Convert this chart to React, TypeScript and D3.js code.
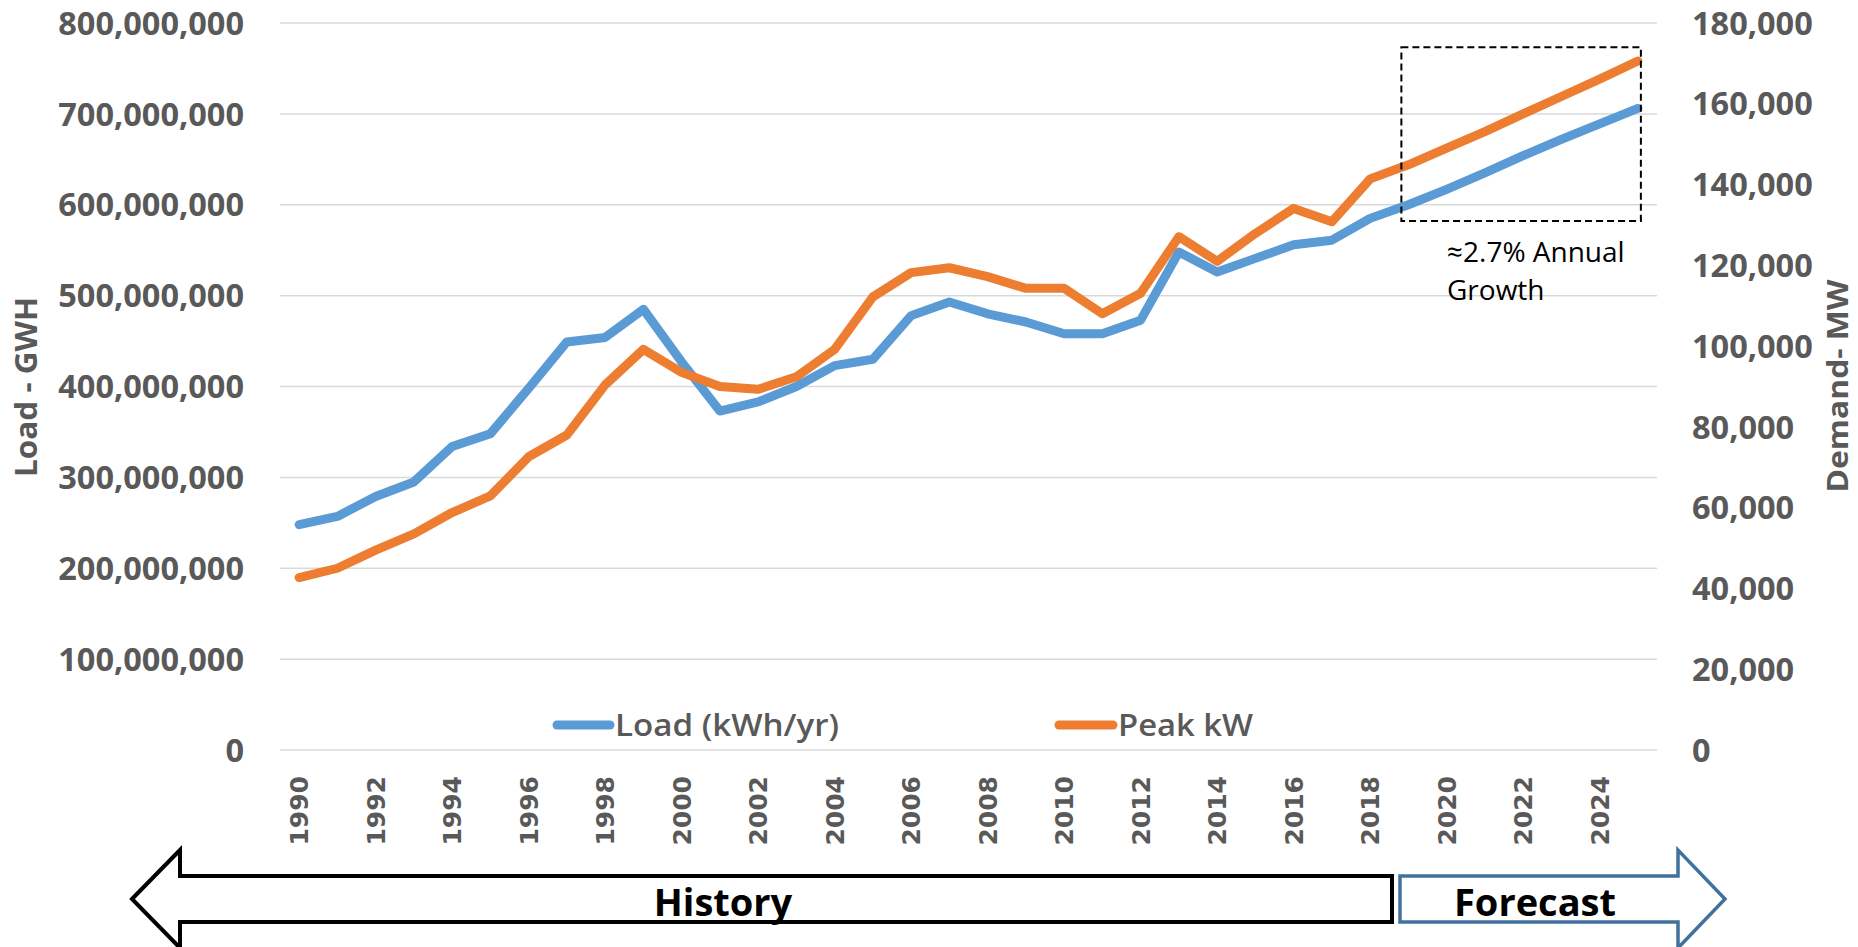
import * as d3 from "d3";

// data
const years = [
  1990, 1991, 1992, 1993, 1994, 1995, 1996, 1997, 1998, 1999, 2000, 2001,
  2002, 2003, 2004, 2005, 2006, 2007, 2008, 2009, 2010, 2011, 2012, 2013,
  2014, 2015, 2016, 2017, 2018, 2019, 2020, 2021, 2022, 2023, 2024, 2025,
];

// Load (kWh/yr), left axis
const loadKwh = [
  248e6, 257e6, 279e6, 295e6, 334e6, 348e6, 398e6, 449e6, 454e6, 485e6,
  427e6, 373e6, 383e6, 400e6, 423e6, 430e6, 478e6, 493e6, 480e6, 471e6,
  458e6, 458e6, 473e6, 548e6, 526e6, 541e6, 556e6, 561e6, 585e6, 600e6,
  617e6, 635e6, 654e6, 672e6, 689e6, 706e6,
];

// Peak kW, right axis
const peakKw = [
  42700, 45000, 49500, 53500, 58800, 62900, 72600, 78000, 90400, 99200,
  93500, 90000, 89300, 92400, 99200, 112200, 118200, 119400, 117200, 114300,
  114300, 108000, 113100, 127100, 121000, 127900, 134100, 130800, 141400,
  144900, 149000, 153100, 157500, 161800, 166100, 170600,
];

const leftTicks = [0, 100e6, 200e6, 300e6, 400e6, 500e6, 600e6, 700e6, 800e6];
const rightTicks = [0, 20000, 40000, 60000, 80000, 100000, 120000, 140000, 160000, 180000];
const yearTicks = [
  1990, 1992, 1994, 1996, 1998, 2000, 2002, 2004, 2006, 2008, 2010, 2012,
  2014, 2016, 2018, 2020, 2022, 2024,
];

const W = 1858;
const H = 947;
const PLOT = { left: 280, right: 1657, top: 23, bottom: 750 };
const FONT = "'Open Sans', sans-serif";
const GREY = "#595959";
const BLUE = "#5B9BD5";
const ORANGE = "#ED7D31";

export default function App() {
  const x = d3.scaleBand<number>().domain(years).range([PLOT.left, PLOT.right]);
  const cx = (yr: number) => (x(yr) ?? 0) + x.bandwidth() / 2;
  const yLeft = d3.scaleLinear().domain([0, 800e6]).range([PLOT.bottom, PLOT.top]);
  const yRight = d3.scaleLinear().domain([0, 180000]).range([PLOT.bottom, PLOT.top]);

  const loadPath = d3
    .line<number>()
    .x((_, i) => cx(years[i]))
    .y((d) => yLeft(d))(loadKwh);
  const peakPath = d3
    .line<number>()
    .x((_, i) => cx(years[i]))
    .y((d) => yRight(d))(peakKw);

  const fmt = d3.format(",");

  // forecast box around 2019-2025
  const boxL = cx(2019) - 7;
  const boxR = cx(2025) + 3;
  const boxT = yRight(174000);
  const boxB = yRight(131000);

  const arrowY = 899;
  const bodyHalf = 23;
  const headHalf = 49;

  const historyPts: [number, number][] = [
    [132, arrowY],
    [180, arrowY - headHalf],
    [180, arrowY - bodyHalf],
    [1392, arrowY - bodyHalf],
    [1392, arrowY + bodyHalf],
    [180, arrowY + bodyHalf],
    [180, arrowY + headHalf],
  ];
  const forecastPts: [number, number][] = [
    [1400, arrowY - bodyHalf],
    [1678, arrowY - bodyHalf],
    [1678, arrowY - headHalf],
    [1725, arrowY],
    [1678, arrowY + headHalf],
    [1678, arrowY + bodyHalf],
    [1400, arrowY + bodyHalf],
  ];
  const poly = (pts: [number, number][]) => "M" + pts.map((p) => p.join(",")).join("L") + "Z";

  return (
    <svg
      width={W}
      height={H}
      style={{ position: "absolute", left: 0, top: 0, background: "#fff" }}
      fontFamily={FONT}
    >
      {/* gridlines */}
      {leftTicks.map((t) => (
        <line
          key={"g" + t}
          x1={PLOT.left}
          x2={PLOT.right}
          y1={yLeft(t)}
          y2={yLeft(t)}
          stroke="#D9D9D9"
          strokeWidth={1.5}
        />
      ))}

      {/* left axis labels */}
      {leftTicks.map((t) => (
        <text
          key={"l" + t}
          x={244}
          y={yLeft(t)}
          dy="0.36em"
          textAnchor="end"
          fontSize={32.5}
          fontWeight={700}
          fill={GREY}
        >
          {fmt(t)}
        </text>
      ))}

      {/* right axis labels */}
      {rightTicks.map((t) => (
        <text
          key={"r" + t}
          x={1692}
          y={yRight(t)}
          dy="0.36em"
          textAnchor="start"
          fontSize={32.5}
          fontWeight={700}
          fill={GREY}
        >
          {fmt(t)}
        </text>
      ))}

      {/* year labels */}
      {yearTicks.map((yr) => (
        <text
          key={"y" + yr}
          transform={`translate(${cx(yr)},776) rotate(-90)`}
          dy="0.36em"
          textAnchor="end"
          fontFamily="'DejaVu Sans', sans-serif"
          fontSize={25}
          fontWeight={700}
          fill={GREY}
        >
          {yr}
        </text>
      ))}

      {/* axis titles */}
      <text
        transform="translate(26,387) rotate(-90)"
        dy="0.36em"
        textAnchor="middle"
        fontSize={30}
        fontWeight={700}
        fill={GREY}
        textLength={180}
        lengthAdjust="spacingAndGlyphs"
      >
        Load - GWH
      </text>
      <text
        transform="translate(1838,386) rotate(-90)"
        dy="0.36em"
        textAnchor="middle"
        fontSize={28}
        fontWeight={700}
        fill={GREY}
        textLength={213}
        lengthAdjust="spacingAndGlyphs"
      >
        Demand- MW
      </text>

      {/* series */}
      <path
        d={loadPath ?? ""}
        fill="none"
        stroke={BLUE}
        strokeWidth={9}
        strokeLinejoin="round"
        strokeLinecap="round"
      />
      <path
        d={peakPath ?? ""}
        fill="none"
        stroke={ORANGE}
        strokeWidth={9}
        strokeLinejoin="round"
        strokeLinecap="round"
      />

      {/* legend */}
      <line x1={557} x2={610} y1={725} y2={725} stroke={BLUE} strokeWidth={9} strokeLinecap="round" />
      <text
        x={615}
        y={725}
        dy="0.36em"
        fontSize={30}
        fontWeight={600}
        fill={GREY}
        textLength={224}
        lengthAdjust="spacingAndGlyphs"
      >
        Load (kWh/yr)
      </text>
      <line x1={1059} x2={1113} y1={725} y2={725} stroke={ORANGE} strokeWidth={9} strokeLinecap="round" />
      <text
        x={1118}
        y={725}
        dy="0.36em"
        fontSize={30}
        fontWeight={600}
        fill={GREY}
        textLength={135}
        lengthAdjust="spacingAndGlyphs"
      >
        Peak kW
      </text>

      {/* growth annotation */}
      <rect
        x={boxL}
        y={boxT}
        width={boxR - boxL}
        height={boxB - boxT}
        fill="none"
        stroke="#000"
        strokeWidth={2}
        strokeDasharray="7 4"
      />
      <text x={1447} y={262} fontSize={28} fill="#000">
        ≈2.7% Annual
      </text>
      <text x={1447} y={300} fontSize={28} fill="#000">
        Growth
      </text>

      {/* history / forecast arrows */}
      <path d={poly(historyPts)} fill="#fff" stroke="#000" strokeWidth={4} strokeLinejoin="miter" />
      <text x={723} y={916} textAnchor="middle" fontSize={38} fontWeight={700} fill="#000">
        History
      </text>
      <path d={poly(forecastPts)} fill="#fff" stroke="#41719C" strokeWidth={3.5} strokeLinejoin="miter" />
      <text x={1535} y={916} textAnchor="middle" fontSize={38} fontWeight={700} fill="#000">
        Forecast
      </text>
    </svg>
  );
}
